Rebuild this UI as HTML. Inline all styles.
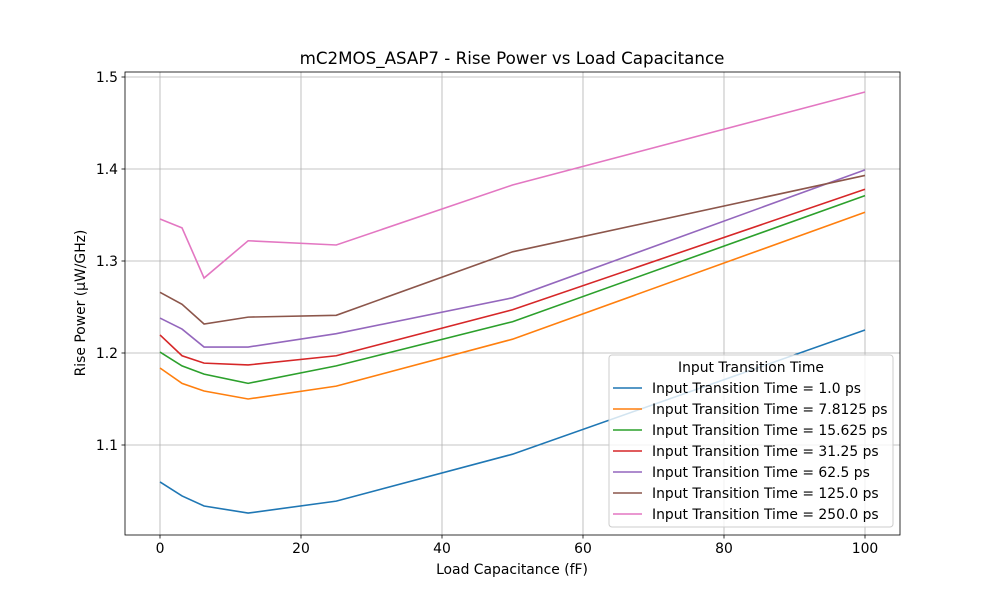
<!DOCTYPE html>
<html><head><meta charset="utf-8"><style>body{margin:0;background:#fff}svg{display:block;font-family:"DejaVu Sans","Liberation Sans",sans-serif}</style></head>
<body>
<svg id="chart" width="1000" height="600"></svg>
<script>
const xs = [0, 3.125, 6.25, 12.5, 25, 50, 100];
const seriesNames = ["Input Transition Time = 1.0 ps","Input Transition Time = 7.8125 ps","Input Transition Time = 15.625 ps","Input Transition Time = 31.25 ps","Input Transition Time = 62.5 ps","Input Transition Time = 125.0 ps","Input Transition Time = 250.0 ps"];
const s1 = [1.0598, 1.0446, 1.0337, 1.026, 1.039, 1.090, 1.225];
const s2 = [1.1837, 1.167, 1.1587, 1.150, 1.164, 1.215, 1.353];
const s3 = [1.201, 1.186, 1.177, 1.167, 1.186, 1.234, 1.371];
const s4 = [1.2196, 1.197, 1.189, 1.187, 1.197, 1.247, 1.378];
const s5 = [1.238, 1.226, 1.2065, 1.2065, 1.221, 1.260, 1.399];
const s6 = [1.266, 1.253, 1.2315, 1.239, 1.241, 1.310, 1.393];
const s7 = [1.3457, 1.336, 1.2815, 1.322, 1.3174, 1.3826, 1.4837];
const xTicks = [0, 20, 40, 60, 80, 100];
const yTicks = [1.1, 1.2, 1.3, 1.4, 1.5];
const colors = ["#1f77b4","#ff7f0e","#2ca02c","#d62728","#9467bd","#8c564b","#e377c2"];
const allSeries = [s1,s2,s3,s4,s5,s6,s7];

const L=125,R=900,T=72,B=535;
const X = v => 160 + v*7.05;
const Y = v => 445 - (v-1.1)*920;
const svg = document.getElementById('chart');
const NS='http://www.w3.org/2000/svg';
function mk(tag, attrs, parent){const e=document.createElementNS(NS,tag);for(const k in attrs)e.setAttribute(k,attrs[k]);(parent||svg).appendChild(e);return e;}

xTicks.forEach(t=>{
  const g=mk('line',{x1:X(t),x2:X(t),y1:T,y2:B,stroke:'#b0b0b0','stroke-width':0.8});
  
  
  mk('line',{x1:X(t),x2:X(t),y1:B,y2:B+3.5,stroke:'#000','stroke-width':0.8});
  const tx=mk('text',{x:X(t),y:B+18,'text-anchor':'middle','font-size':13.9});
  tx.textContent=t;
  
  
});
yTicks.forEach(t=>{
  const g=mk('line',{x1:L,x2:R,y1:Y(t),y2:Y(t),stroke:'#b0b0b0','stroke-width':0.8});
  
  
  mk('line',{x1:L-3.5,x2:L,y1:Y(t),y2:Y(t),stroke:'#000','stroke-width':0.8});
  const tx=mk('text',{x:L-7,y:Y(t)+5,'text-anchor':'end','font-size':13.9});
  tx.textContent=t.toFixed(1);
  
  
});
allSeries.forEach((s,i)=>{
  const p=mk('polyline',{points:s.map((v,j)=>X(xs[j])+','+Y(v)).join(' '),fill:'none',stroke:colors[i],'stroke-width':1.6});
  
  
});
const frame=mk('rect',{x:L,y:T,width:R-L,height:B-T,fill:'none',stroke:'#000','stroke-width':0.8});



const title=mk('text',{x:512,y:64,'text-anchor':'middle','font-size':16.7});
title.textContent='mC2MOS_ASAP7 - Rise Power vs Load Capacitance';


const xl=mk('text',{x:512,y:574,'text-anchor':'middle','font-size':13.9});
xl.textContent='Load Capacitance (fF)';


const yl=mk('text',{x:0,y:0,'text-anchor':'middle','font-size':13.9,transform:'translate(85,303) rotate(-90)'});
yl.textContent='Rise Power (µW/GHz)';



const lg=mk('g',{});


mk('rect',{x:609,y:355,width:284,height:172,rx:3,fill:'#fff','fill-opacity':0.8,stroke:'#ccc','stroke-width':1},lg);
const lt=mk('text',{x:751,y:372,'text-anchor':'middle','font-size':13.9},lg);
lt.textContent='Input Transition Time';


seriesNames.forEach((n,i)=>{
  const y=388+i*21;
  const ln=mk('line',{x1:613,x2:642,y1:y,y2:y,stroke:colors[i],'stroke-width':1.6},lg);
  
  
  const t=mk('text',{x:652,y:y+5,'font-size':13.9},lg);
  t.textContent=n;
  
  
});
</script>
</body></html>
